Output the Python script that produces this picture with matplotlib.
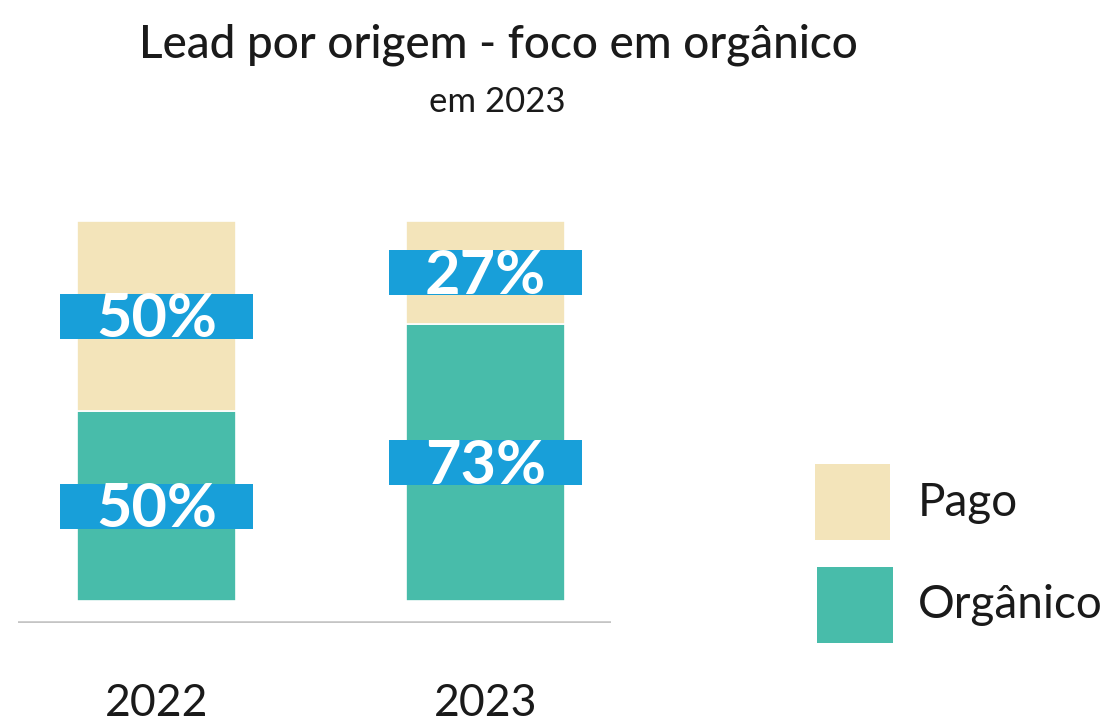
import matplotlib
matplotlib.use("Agg")
import matplotlib.pyplot as plt
from matplotlib.patches import Rectangle

years = ["2022", "2023"]
organico = [50, 73]
pago = [50, 27]
series_names = ["Pago", "Orgânico"]

C_PAGO = "#F3E4BA"
C_ORG = "#48BCAA"
C_BLUE = "#189FD9"
C_TEXT = "#1a1a1a"
FONT = "Lato"

W, H = 1109, 726
fig = plt.figure(figsize=(W / 100, H / 100), dpi=100)

# main bar axes: pixel x 18..611, y 200..623
px_per_unit_y = 3.8
y_bottom_px, y_top_px = 623, 200
ymin = -(y_bottom_px - 601) / px_per_unit_y
ymax = (601 - y_top_px) / px_per_unit_y
xl, xr = 18, 611
xmin = (xl - 156.5) / 329
xmax = (xr - 156.5) / 329
ax = fig.add_axes([xl / W, 1 - y_bottom_px / H, (xr - xl) / W, (y_bottom_px - y_top_px) / H])
ax.set_xlim(xmin, xmax)
ax.set_ylim(ymin, ymax)
ax.axis("off")

x = list(range(len(years)))
bw = 159 / 329
ax.bar(x, organico, width=bw, color=C_ORG, edgecolor="white", linewidth=1.2)
ax.bar(x, pago, width=bw, bottom=organico, color=C_PAGO, edgecolor="white", linewidth=1.2)
ax.axhline(ymin + 0.0001, color="#c4c4c4", linewidth=2.6, xmin=0, xmax=1)

box_w = 193 / 329
box_h = 45 / px_per_unit_y
for i in x:
    for base, val in ((0, organico[i]), (organico[i], pago[i])):
        yc = base + val / 2
        ax.add_patch(Rectangle((i - box_w / 2, yc - box_h / 2), box_w, box_h,
                               facecolor=C_BLUE, edgecolor="none", zorder=3))
        ax.text(i, yc - box_h / 2 + 0.3, f"{val}%", ha="center", va="baseline",
                color="white", fontsize=44, fontweight="bold", family=FONT, zorder=4)
    ax.text(i, ymin - (704 - 623) / px_per_unit_y, years[i], ha="center", va="center",
            color=C_TEXT, fontsize=32, family=FONT, fontweight="normal", clip_on=False)

# overlay for title & legend (pixel coords)
ov = fig.add_axes([0, 0, 1, 1], zorder=-1)
ov.set_xlim(0, W)
ov.set_ylim(H, 0)
ov.axis("off")
ov.text(498, 45, "Lead por origem - foco em orgânico", ha="center", va="center",
        fontsize=33, color=C_TEXT, family=FONT, fontweight="medium")
ov.text(497, 102, "em 2023", ha="center", va="center",
        fontsize=25, color=C_TEXT, family=FONT, fontweight="normal")

ov.add_patch(Rectangle((815, 464), 75, 76, facecolor=C_PAGO, edgecolor="none"))
ov.add_patch(Rectangle((817, 567), 76, 76, facecolor=C_ORG, edgecolor="none"))
ov.text(918, 503, series_names[0], ha="left", va="center", fontsize=33,
        color=C_TEXT, family=FONT)
ov.text(918, 605, series_names[1], ha="left", va="center", fontsize=33,
        color=C_TEXT, family=FONT)

fig.savefig("out.png", dpi=100, facecolor="white")
